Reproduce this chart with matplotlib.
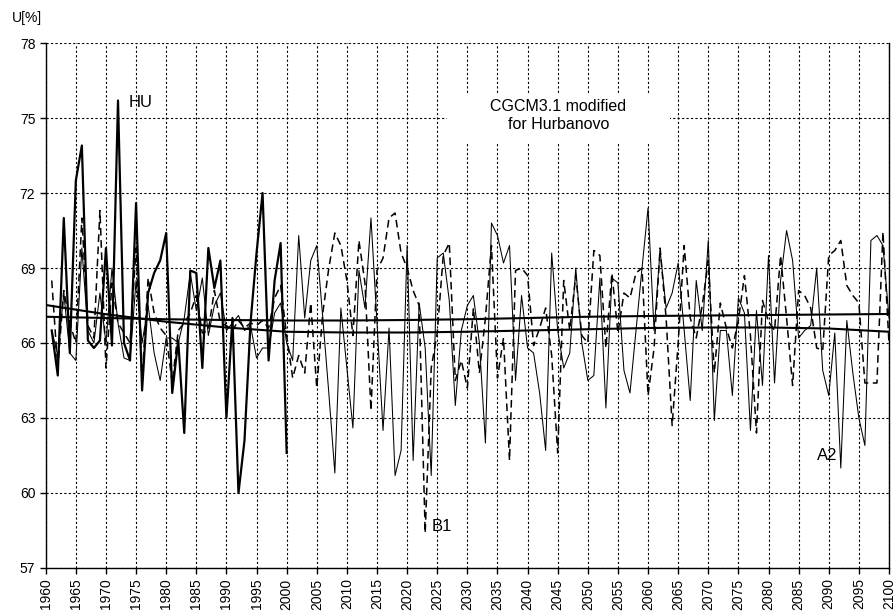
import matplotlib
matplotlib.use("Agg")
import matplotlib.pyplot as plt
from matplotlib.patches import Rectangle

plt.rcParams['font.family'] = ['Liberation Sans', 'DejaVu Sans']

# ---------------- data ----------------
hu_years = list(range(1961, 2001))
hu = [66.5, 64.7, 71.0, 65.6, 72.5, 73.9, 66.1, 65.8, 66.1, 69.8,
      65.9, 75.7, 66.0, 65.3, 71.6, 64.1, 68.0, 68.8, 69.3, 70.4,
      64.0, 66.1, 62.4, 68.9, 68.8, 65.0, 69.8, 68.2, 69.3, 63.0,
      67.0, 60.0, 62.1, 66.8, 69.6, 72.0, 65.3, 68.5, 70.0, 61.6]

sc_years = list(range(1961, 2101))
a2 = [66.5, 65.5, 68.0, 65.6, 65.3, 69.8, 66.5, 66.0, 68.0, 66.0,
      69.0, 66.8, 65.4, 65.3, 68.5, 66.0, 67.5, 65.6, 64.5, 66.2,
      66.2, 66.0, 67.0, 68.8, 67.3, 68.6, 66.3, 67.5, 68.0, 66.5,
      66.8, 67.1, 66.5, 66.7, 65.4, 65.8, 65.8, 67.2, 67.6, 66.0,
      65.3, 70.3, 67.0, 69.3, 69.9, 67.0, 64.0, 60.8, 67.4, 65.0,
      62.6, 68.9, 67.4, 71.0, 66.8, 62.5, 66.6, 60.7, 61.7, 69.9,
      61.3, 67.6, 65.8, 60.7, 69.4, 69.6, 67.7, 63.5, 66.5, 67.5,
      67.9, 66.0, 62.0, 70.8, 70.3, 69.2, 69.9, 64.5, 67.9, 65.8,
      65.6, 64.0, 61.7, 69.6, 66.5, 65.0, 65.6, 69.0, 66.0, 64.5,
      64.7, 68.6, 63.4, 68.6, 68.4, 64.9, 64.0, 66.5, 69.0, 71.4,
      66.5, 69.7, 67.4, 68.0, 69.2, 66.5, 63.7, 68.5, 66.5, 70.1,
      62.9, 66.5, 66.5, 63.9, 67.8, 67.2, 62.5, 67.3, 64.3, 69.5,
      64.4, 68.5, 70.5, 69.3, 66.2, 66.5, 66.7, 69.0, 64.9, 63.9,
      66.4, 61.0, 66.9, 64.8, 63.0, 61.9, 70.1, 70.3, 69.9, 67.0]
b1 = [68.5, 65.0, 68.1, 66.8, 66.0, 71.0, 66.7, 66.2, 71.3, 65.0,
      68.4, 66.8, 66.4, 66.0, 69.8, 64.5, 68.6, 67.2, 66.6, 66.3,
      64.4, 66.5, 66.8, 67.2, 67.9, 66.4, 66.5, 68.1, 66.8, 66.7,
      66.5, 66.9, 66.6, 66.8, 66.7, 66.9, 66.6, 67.8, 68.3, 66.3,
      64.6, 65.5, 64.8, 67.6, 64.2, 67.2, 69.0, 70.4, 69.9, 68.5,
      66.3, 70.1, 68.4, 63.3, 68.9, 69.4, 71.0, 71.2, 69.6, 69.0,
      68.1, 67.5, 58.4, 65.0, 66.4, 69.5, 70.0, 64.5, 65.3, 64.2,
      67.4, 64.8, 67.0, 69.9, 64.6, 66.2, 61.3, 68.9, 69.0, 68.7,
      65.9, 66.6, 67.4, 65.5, 61.6, 68.5, 66.5, 68.7, 66.3, 66.0,
      69.7, 69.5, 65.8, 68.8, 66.4, 68.0, 67.8, 68.8, 69.0, 63.9,
      65.8, 69.8, 67.0, 62.7, 66.0, 69.9, 67.0, 66.2, 67.5, 69.3,
      64.8, 67.6, 66.6, 65.8, 66.9, 68.7, 66.3, 62.4, 67.7, 66.85,
      66.5, 69.5, 67.0, 64.3, 68.1, 67.9, 67.4, 65.8, 65.7, 69.5,
      69.7, 70.1, 68.3, 67.9, 67.6, 64.4, 64.4, 64.4, 70.45, 66.0]

trend_years = list(range(1960, 2101, 10))
trend_low = [67.52, 67.15, 66.85, 66.62, 66.45, 66.42, 66.42, 66.45,
             66.50, 66.55, 66.60, 66.62, 66.62, 66.58, 66.45]
trend_high = [67.05, 67.00, 66.95, 66.92, 66.90, 66.90, 66.92, 66.95,
              67.00, 67.05, 67.08, 67.10, 67.12, 67.14, 67.16]

x_ticks = list(range(1960, 2101, 5))
y_ticks = [57, 60, 63, 66, 69, 72, 75, 78]

# ---------------- figure ----------------
fig = plt.figure(figsize=(8.93, 6.11), dpi=100)
ax = fig.add_axes([0.0512, 0.0704, 0.9443, 0.8592])

ax.set_axisbelow(True)
ax.grid(True, color='black', linestyle=(0, (2, 2)), linewidth=0.8)

ax.add_patch(Rectangle((2026.6, 74.0), 37.1, 2.0, facecolor='white',
                       edgecolor='none', zorder=1))

ax.plot(sc_years, a2, color='black', linewidth=0.75, zorder=2)
ax.plot(sc_years, b1, color='black', linewidth=1.1, dashes=(5, 3), zorder=2)
ax.plot(hu_years, hu, color='black', linewidth=1.6, zorder=3)
ax.plot(trend_years, trend_low, color='black', linewidth=1.5, zorder=4)
ax.plot(trend_years, trend_high, color='black', linewidth=1.5, zorder=4)

ax.set_xlim(1960, 2100)
ax.set_ylim(57, 78)
ax.set_xticks(x_ticks)
ax.set_xticklabels([str(t) for t in x_ticks], rotation=90)
ax.set_yticks(y_ticks)
ax.tick_params(axis='both', labelsize=10, direction='out', length=4,
               width=1, colors='black')

ax.spines['top'].set_visible(False)
for s in ['left', 'bottom', 'right']:
    ax.spines[s].set_linewidth(1.0)
    ax.spines[s].set_color('black')

ax.text(1973.7, 75.64, 'HU', fontsize=12, va='center', ha='left')
ax.text(2024.1, 58.65, 'B1', fontsize=12, va='center', ha='left')
ax.text(2088.1, 61.5, 'A2', fontsize=12, va='center', ha='left')
ax.text(2045.1, 75.1, 'CGCM3.1 modified\nfor Hurbanovo', fontsize=11.5,
        ha='center', va='center', linespacing=1.2, zorder=5)

fig.text(12 / 893, 1 - 18 / 611, 'U[%]', fontsize=10, ha='left', va='center')

fig.savefig('out.png', dpi=100)
